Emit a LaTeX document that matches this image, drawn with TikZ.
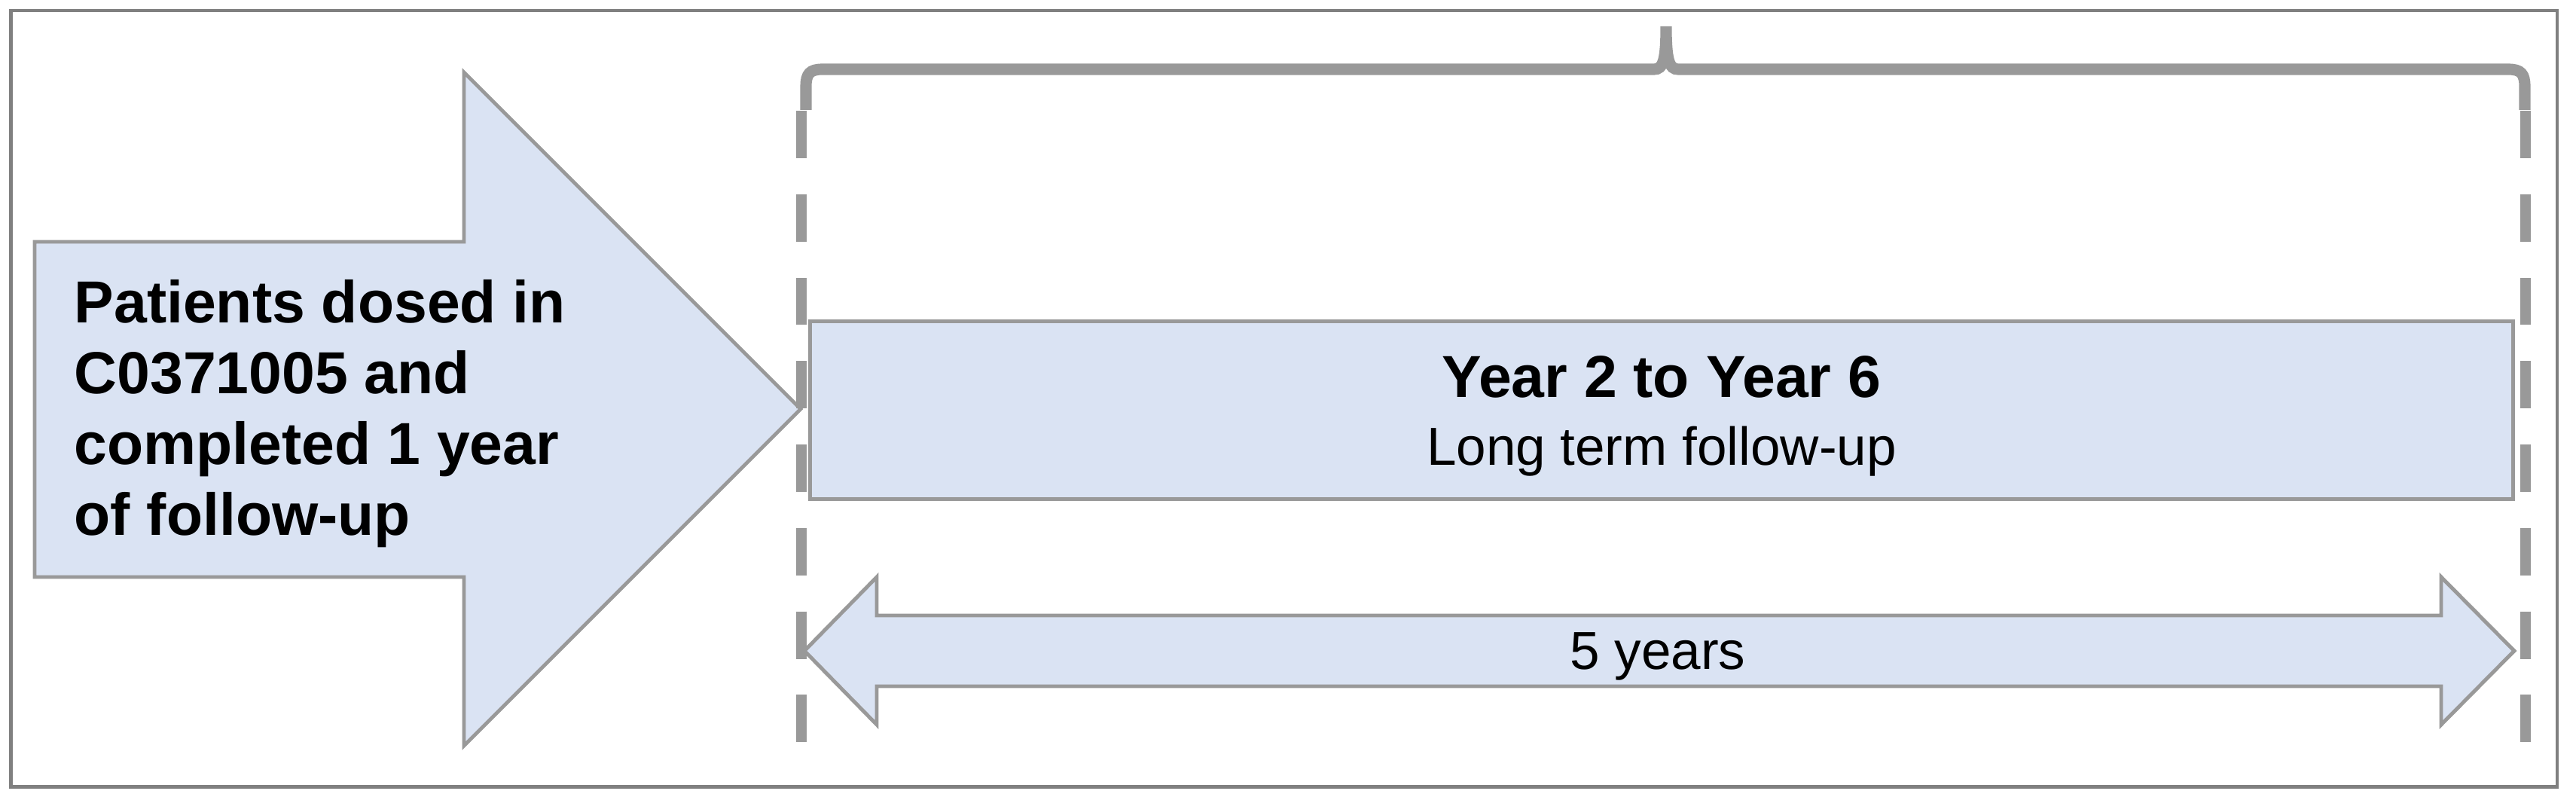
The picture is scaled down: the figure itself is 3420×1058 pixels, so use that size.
\documentclass[tikz,border=0pt]{standalone}
\usepackage{fontspec}
\setmainfont{Liberation Sans}
\definecolor{fillblue}{HTML}{DAE3F3}
\definecolor{linegray}{HTML}{999999}
\definecolor{framegray}{HTML}{808080}
\tikzset{
  shapebox/.style={fill=fillblue, draw=linegray, line width=1.4pt, line join=miter},
  guide/.style={draw=linegray, line width=4.2pt, dash pattern=on 17.9pt off 13.6pt},
  bracestyle/.style={draw=linegray, line width=4.3pt},
  framestyle/.style={draw=framegray, line width=1.15pt},
  boldtxt/.style={font=\bfseries\fontsize{22.4}{26.8}\selectfont, inner sep=0pt},
  regtxt/.style={font=\fontsize{20.2}{25}\selectfont, inner sep=0pt}
}
\begin{document}
\begin{tikzpicture}[x=0.01cm,y=-0.01cm]
\useasboundingbox (0,0) rectangle (3420,1058);
% outer frame
\draw[framestyle] (14.5,14) rectangle (3395,1044.5);
% big arrow
\draw[shapebox] (46,321) -- (616,321) -- (616,96) -- (1063,543) -- (616,990) -- (616,766) -- (46,766) -- cycle;
\node[boldtxt, align=left, anchor=base west] (patients) at (98,711)
  {Patients dosed in\\C0371005 and\\completed 1 year\\of follow-up};
% dashed guides
\coordinate (lt) at (1064,147);
\coordinate (lb) at (1064,986);
\coordinate (rt) at (3353,147);
\coordinate (rb) at (3353,986);
\draw[guide] (lt) -- (lb);
\draw[guide] (rt) -- (rb);
% brace
\draw[bracestyle] (1070,146) -- (1070,115) .. controls (1070,98) and (1075,92) .. (1092,92)
  -- (2196,92) .. controls (2208,92) and (2212,80) .. (2212,35)
  .. controls (2212,80) and (2216,92) .. (2228,92)
  -- (3330,92) .. controls (3347,92) and (3352,98) .. (3352,115) -- (3352,146);
% phase box
\node[shapebox, minimum width=22.6cm, minimum height=2.35cm, inner sep=0pt] (phase) at (2206,544.5) {};
\node[boldtxt, anchor=base] (year) at (2206,528) {Year 2 to Year 6};
\node[regtxt, anchor=base] (lt-fu) at (2206,617) {Long term follow-up};
% double arrow
\draw[shapebox] (1068,864) -- (1164,766) -- (1164,817) -- (3241,817) -- (3241,766) -- (3338,864)
  -- (3241,962) -- (3241,911) -- (1164,911) -- (1164,962) -- cycle;
\node[regtxt, anchor=base] (fiveyears) at (2201,888) {5 years};
\end{tikzpicture}
\end{document}
